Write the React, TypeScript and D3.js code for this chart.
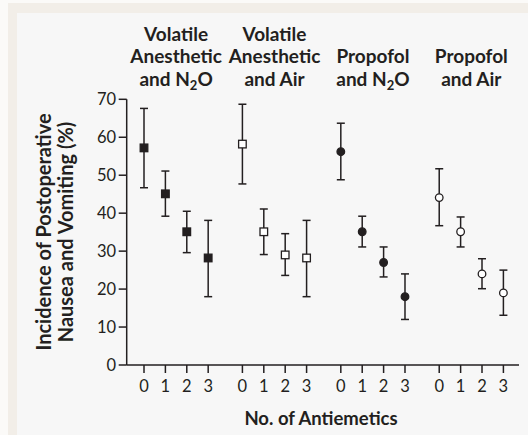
import React from "react";
import * as d3 from "d3";

const W = 528;
const H = 435;

const antiemetics = ["0", "1", "2", "3"];
const groupHeaders: string[][] = [
  ["Volatile", "Anesthetic", "and N2O"],
  ["Volatile", "Anesthetic", "and Air"],
  ["Propofol", "and N2O"],
  ["Propofol", "and Air"],
];
const markerTypes = ["filledSquare", "openSquare", "filledCircle", "openCircle"];

const meanVolN2O = [57.2, 45.1, 35.1, 28.2];
const lowVolN2O = [46.7, 39.2, 29.6, 18.0];
const highVolN2O = [67.6, 51.1, 40.5, 38.1];

const meanVolAir = [58.2, 35.1, 29.0, 28.2];
const lowVolAir = [47.7, 29.1, 23.6, 18.0];
const highVolAir = [68.7, 41.1, 34.6, 38.1];

const meanPropN2O = [56.2, 35.1, 27.0, 18.0];
const lowPropN2O = [48.8, 31.1, 23.2, 12.0];
const highPropN2O = [63.7, 39.2, 31.1, 24.0];

const meanPropAir = [44.1, 35.1, 24.0, 19.0];
const lowPropAir = [36.7, 31.1, 20.1, 13.1];
const highPropAir = [51.7, 39.0, 28.0, 25.0];

const yTicks = [0, 10, 20, 30, 40, 50, 60, 70];

const series = [
  { mean: meanVolN2O, low: lowVolN2O, high: highVolN2O },
  { mean: meanVolAir, low: lowVolAir, high: highVolAir },
  { mean: meanPropN2O, low: lowPropN2O, high: highPropN2O },
  { mean: meanPropAir, low: lowPropAir, high: highPropAir },
];

const GROUP_STEP = 4.6;
const FONT = "Lato, 'Open Sans', sans-serif";
const INK = "#231f20";

function HeaderLine({ text, x, y }: { text: string; x: number; y: number }) {
  if (text.includes("N2O")) {
    const [pre] = text.split("N2O");
    return (
      <text x={x} y={y} textAnchor="middle">
        {pre}N
        <tspan fontSize="13" dy="4">2</tspan>
        <tspan dy="-4">O</tspan>
      </text>
    );
  }
  return (
    <text x={x} y={y} textAnchor="middle">
      {text}
    </text>
  );
}

export default function App() {
  const x = d3.scaleLinear().domain([0, 3 * GROUP_STEP + 3]).range([144, 503.4]);
  const y = d3.scaleLinear().domain([0, 70]).range([365, 99.3]);
  const axisX0 = 126.7;
  const axisX1 = 519;
  const y0 = y(0);

  const pos = (g: number, i: number) => x(g * GROUP_STEP + i);

  return (
    <svg
      width={W}
      height={H}
      style={{ position: "absolute", left: 0, top: 0 }}
      fontFamily={FONT}
    >
      <rect x={0} y={0} width={W} height={H} fill="#fbfaf8" />
      <rect x={8} y={3} width={W - 8} height={H - 3} fill="#f2eee8" />
      <rect x={17} y={13} width={W - 17} height={H - 13} fill="#f7f7f7" />

      {/* headers */}
      <g fontSize="19" fontWeight="bold" fill={INK}>
        {groupHeaders.map((lines, g) => {
          const cx = (pos(g, 0) + pos(g, 3)) / 2;
          const baselines = [40.5, 63, 86];
          const offset = 3 - lines.length;
          return lines.map((ln, k) => (
            <HeaderLine key={g + "-" + k} text={ln} x={cx} y={baselines[k + offset]} />
          ));
        })}
      </g>

      {/* y axis */}
      <line x1={axisX0} x2={axisX0} y1={y(70)} y2={y0} stroke={INK} strokeWidth={1.5} />
      {yTicks.map((t) => (
        <g key={t}>
          <line x1={axisX0 - 8} x2={axisX0} y1={y(t)} y2={y(t)} stroke={INK} strokeWidth={1.5} />
          <text x={axisX0 - 10.5} y={y(t)} dy="0.35em" textAnchor="end" fontSize="16.5" fill={INK}>
            {t}
          </text>
        </g>
      ))}

      {/* x axis */}
      <line x1={axisX0} x2={axisX1} y1={y0} y2={y0} stroke={INK} strokeWidth={1.5} />
      {groupHeaders.map((_, g) =>
        antiemetics.map((a, i) => (
          <g key={g + "-" + i}>
            <line x1={pos(g, i)} x2={pos(g, i)} y1={y0} y2={y0 + 8} stroke={INK} strokeWidth={1.5} />
            <text x={pos(g, i)} y={y0 + 21.5} dy="0.35em" textAnchor="middle" fontSize="16.5" fill={INK}>
              {a}
            </text>
          </g>
        ))
      )}

      {/* axis titles */}
      <text
        x={321}
        y={424.5}
        textAnchor="middle"
        fontSize="18.5"
        fontWeight="bold"
        fill={INK}
      >
        No. of Antiemetics
      </text>
      <g transform="translate(44,232) rotate(-90)">
        <text x={0} y={0} dy="0.35em" textAnchor="middle" fontSize="20" fontWeight="bold" fill={INK}>
          Incidence of Postoperative
        </text>
        <text x={0} y={22} dy="0.35em" textAnchor="middle" fontSize="20" fontWeight="bold" fill={INK}>
          Nausea and Vomiting (%)
        </text>
      </g>

      {/* error bars and markers */}
      {series.map((s, g) =>
        s.mean.map((m, i) => {
          const cx = pos(g, i);
          const type = markerTypes[g];
          const filled = type.startsWith("filled");
          return (
            <g key={g + "-" + i}>
              <line x1={cx} x2={cx} y1={y(s.high[i])} y2={y(s.low[i])} stroke={INK} strokeWidth={1.5} />
              <line x1={cx - 4} x2={cx + 4} y1={y(s.high[i])} y2={y(s.high[i])} stroke={INK} strokeWidth={1.5} />
              <line x1={cx - 4} x2={cx + 4} y1={y(s.low[i])} y2={y(s.low[i])} stroke={INK} strokeWidth={1.5} />
              {type.endsWith("Square") ? (
                <rect
                  x={cx - 3.8}
                  y={y(m) - 3.8}
                  width={7.6}
                  height={7.6}
                  fill={filled ? INK : "#ffffff"}
                  stroke={INK}
                  strokeWidth={1.3}
                />
              ) : (
                <circle
                  cx={cx}
                  cy={y(m)}
                  r={3.8}
                  fill={filled ? INK : "#ffffff"}
                  stroke={INK}
                  strokeWidth={1.3}
                />
              )}
            </g>
          );
        })
      )}
    </svg>
  );
}
